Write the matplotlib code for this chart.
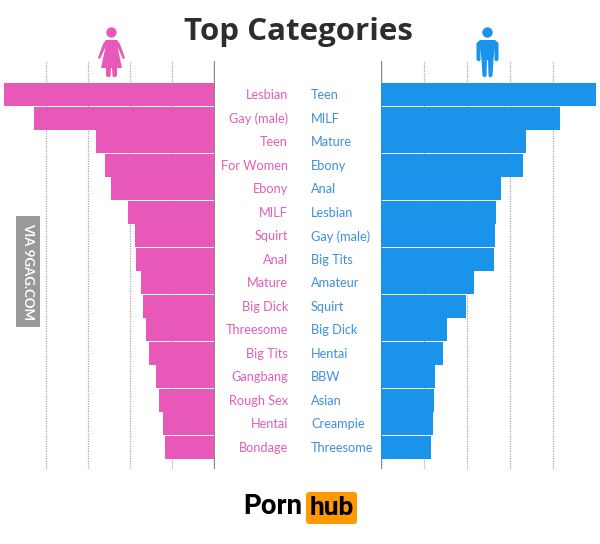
import matplotlib
matplotlib.use('Agg')
import matplotlib.pyplot as plt
from matplotlib.patches import Circle, Polygon, FancyBboxPatch, Rectangle

women_labels = ['Lesbian', 'Gay (male)', 'Teen', 'For Women', 'Ebony', 'MILF', 'Squirt', 'Anal',
                'Mature', 'Big Dick', 'Threesome', 'Big Tits', 'Gangbang', 'Rough Sex', 'Hentai', 'Bondage']
women_values = [5.01, 4.30, 2.82, 2.60, 2.46, 2.06, 1.90, 1.87,
                1.76, 1.70, 1.63, 1.56, 1.39, 1.31, 1.23, 1.17]
men_labels = ['Teen', 'MILF', 'Mature', 'Ebony', 'Anal', 'Lesbian', 'Gay (male)', 'Big Tits',
              'Amateur', 'Squirt', 'Big Dick', 'Hentai', 'BBW', 'Asian', 'Creampie', 'Threesome']
men_values = [5.01, 4.17, 3.38, 3.31, 2.81, 2.69, 2.66, 2.64,
              2.17, 1.99, 1.55, 1.45, 1.27, 1.24, 1.22, 1.17]
grid_ticks = [1, 2, 3, 4]

PINK = '#e858b8'
BLUE = '#1a94ea'
W, H = 600, 544
TOP, BOTTOM = 61, 469
BAR_TOP, BAR_STEP = 83, 23.5
LABEL_FONT = ['Lato', 'DejaVu Sans']


def make_axes(fig, x0, x1):
    ax = fig.add_axes([x0 / W, 1 - BOTTOM / H, (x1 - x0) / W, (BOTTOM - TOP) / H])
    ax.axis('off')
    return ax


def draw_side(ax, values, color, unit, width_px, flip):
    # y runs in bar slots, so the top edge of the axes sits above slot 0
    ax.set_ylim((BOTTOM - BAR_TOP) / BAR_STEP - 0.5, (TOP - BAR_TOP) / BAR_STEP - 0.5)
    ax.set_xlim((width_px / unit, 0) if flip else (0, width_px / unit))
    for t in grid_ticks:
        ax.axvline(t, color='#a8a8a8', lw=0.9, ls=(0, (1, 1)), zorder=1)
    ax.axvline(0, color='#8a8a8a', lw=1.0, zorder=1)
    ax.barh(range(len(values)), values, height=0.97, color=color, zorder=2)


fig = plt.figure(figsize=(W / 100, H / 100), dpi=100, facecolor='white')

ax_w = make_axes(fig, 0, 214.5)
draw_side(ax_w, women_values, PINK, 42, 214.5, True)
ax_m = make_axes(fig, 380.5, 600)
draw_side(ax_m, men_values, BLUE, 43, 219.5, False)

# overlay in pixel coordinates for labels, icons and logo
ov = fig.add_axes([0, 0, 1, 1], zorder=5)
ov.set_xlim(0, W)
ov.set_ylim(H, 0)
ov.axis('off')

for i, (a, b) in enumerate(zip(women_labels, men_labels)):
    y = BAR_TOP + BAR_STEP * (i + 0.5) + 0.5
    ov.text(288, y, a, ha='right', va='center', color='#e05fb9', fontsize=9.2, family=LABEL_FONT)
    ov.text(311, y, b, ha='left', va='center', color='#3f90dc', fontsize=9.2, family=LABEL_FONT)

ov.text(298.5, 32, 'Top Categories', ha='center', va='center', color='#2f2d2b',
        fontsize=22.5, fontweight='bold', family=['Open Sans', 'DejaVu Sans'])

# woman icon
ov.add_patch(Circle((111.5, 32.5), 5.2, color=PINK, lw=0))
ov.add_patch(Polygon([(106, 40), (117, 40), (120, 44), (125, 58), (123, 59), (117.5, 47), (122, 68), (117, 68),
                      (117, 76), (114, 77.5), (112.5, 76), (112, 68), (111, 68), (110.5, 76), (109, 77.5),
                      (106, 76), (106, 68), (101, 68), (105.5, 47), (100, 59), (98, 58), (103, 44)],
                     closed=True, color=PINK, lw=0))
# man icon
ov.add_patch(Circle((487.5, 32.5), 5.2, color=BLUE, lw=0))
ov.add_patch(Polygon([(480, 40), (495, 40), (498.5, 43), (498.5, 60), (496, 61.5), (494.5, 60), (494.5, 48),
                      (493.5, 60), (492.5, 76), (490, 77.5), (488.5, 76), (488, 60), (487, 60), (486.5, 76),
                      (485, 77.5), (482.5, 76), (481.5, 60), (480.5, 48), (480.5, 60), (479, 61.5),
                      (476.5, 60), (476.5, 43)], closed=True, color=BLUE, lw=0))

# watermark
ov.add_patch(Rectangle((16, 216), 24, 111, color='#999999', lw=0))
ov.text(28, 271.5, 'VIA 9GAG.COM', rotation=270, ha='center', va='center', color='white',
        fontsize=9.5, fontweight='bold', family=LABEL_FONT)

# logo
ov.text(302, 507, 'Porn', ha='right', va='center', color='black', fontsize=20,
        fontweight='bold', family=['Roboto', 'DejaVu Sans'])
ov.add_patch(FancyBboxPatch((308, 494), 47, 28, boxstyle='round,pad=2,rounding_size=3',
                            color='#ff9900', lw=0))
ov.text(331.5, 508, 'hub', ha='center', va='center', color='black', fontsize=19,
        fontweight='bold', family=['Roboto', 'DejaVu Sans'])

fig.savefig('out.png', dpi=100)
